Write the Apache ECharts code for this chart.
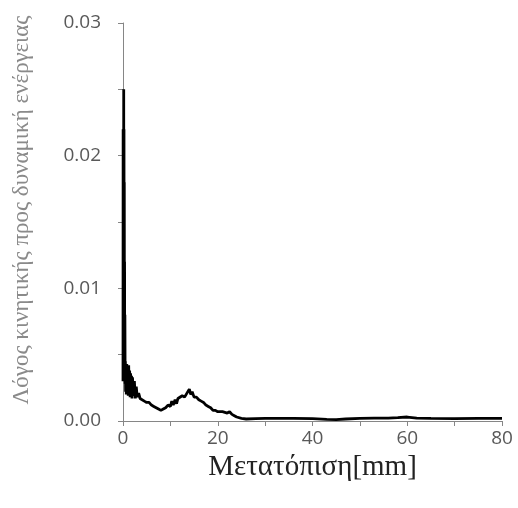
<!DOCTYPE html>
<html>
<head>
<meta charset="utf-8">
<script src="https://cdn.jsdelivr.net/npm/echarts@6/dist/echarts.min.js"></script>
<style>html,body{margin:0;padding:0;background:#fff}#c{width:518px;height:508px}</style>
</head>
<body>
<div id="c"></div>
<script>
var xLabel = 'Μετατόπιση[mm]';
var yLabel = 'Λόγος κινητικής προς δυναμική ενέργειας';
var xTickValues = [0, 20, 40, 60, 80];
var yTickValues = [0.00, 0.01, 0.02, 0.03];
var dispX = [0.00,0.03,0.06,0.09,0.12,0.15,0.18,0.21,0.24,0.27,0.30,0.33,0.36,0.40,0.45,0.50,0.55,0.60,0.70,0.80,0.90,1.00,1.10,1.20,1.30,1.40,1.50,1.60,1.70,1.80,1.90,2.00,2.20,2.40,2.60,2.80,3.00,3.30,3.60,4.00,4.50,5.00,5.50,6.00,6.50,7.00,7.50,8.00,8.50,9.00,9.50,10.0,10.3,10.6,11.0,11.3,11.6,12.0,12.5,13.0,13.5,14.0,14.3,14.6,15.0,15.5,16.0,16.5,17.0,17.5,18.0,18.5,19.0,19.5,20.0,21.0,22.0,22.5,23.0,23.5,24.0,25.0,26.0,28,30,33,36,40,43,45,47,50,53,56,58,60,62,65,70,75,80];
var ratio = [0.0030,0.0220,0.0040,0.0215,0.0035,0.0250,0.0045,0.0220,0.0030,0.0180,0.0040,0.0120,0.0030,0.0080,0.0028,0.0045,0.0022,0.0040,0.0020,0.0043,0.0025,0.0040,0.0019,0.0042,0.0022,0.0038,0.0018,0.0036,0.0020,0.0034,0.0017,0.0033,0.0019,0.0030,0.0017,0.0026,0.0018,0.0021,0.0017,0.0017,0.0015,0.0014,0.0014,0.0012,0.0011,0.0010,0.0009,0.0008,0.0009,0.0010,0.0012,0.0011,0.0015,0.0012,0.0016,0.0013,0.0017,0.0016,0.0019,0.0018,0.0021,0.0024,0.0020,0.0022,0.0018,0.0018,0.0016,0.0015,0.0014,0.0012,0.0011,0.0010,0.0008,0.0008,0.0007,0.0007,0.0006,0.0007,0.0005,0.0004,0.0003,0.0002,0.00015,0.00018,0.0002,0.0002,0.0002,0.00018,0.00012,0.0001,0.00015,0.0002,0.00022,0.00022,0.00025,0.0003,0.00022,0.0002,0.00018,0.0002,0.0002];

var data = dispX.map(function(x, i){ return [x, ratio[i]]; });
function near(v, list){ for (var i=0;i<list.length;i++){ if (Math.abs(v-list[i])<1e-9) return true; } return false; }

var chart = echarts.init(document.getElementById('c'), null, {renderer:'canvas'});
chart.setOption({
  animation: false,
  backgroundColor: '#fff',
  grid: {left: 123, right: 16, top: 23, bottom: 87, containLabel: false, outerBoundsMode: 'none'},
  xAxis: {
    type: 'value', min: 0, max: 80, interval: 10,
    name: xLabel, nameLocation: 'middle', nameGap: 23,
    nameTextStyle: {fontFamily: 'Liberation Serif', fontSize: 29, color: '#222'},
    axisLine: {show: true, lineStyle: {color: '#868686', width: 1}},
    axisTick: {show: true, length: 5, lineStyle: {color: '#868686'}},
    axisLabel: {fontFamily: 'Open Sans', fontSize: 19, color: '#595959', margin: 8,
      formatter: function(v){ return near(v, xTickValues) ? String(v) : ''; }},
    splitLine: {show: false}
  },
  yAxis: {
    type: 'value', min: 0, max: 0.03, interval: 0.005,
    name: yLabel, nameLocation: 'middle', nameGap: 90,
    nameTextStyle: {fontFamily: 'Liberation Serif', fontSize: 23, color: '#8a8a8a', padding: [0, 0, 0, 24]},
    axisLine: {show: true, lineStyle: {color: '#868686', width: 1}},
    axisTick: {show: true, length: 5, lineStyle: {color: '#868686'}},
    axisLabel: {fontFamily: 'Open Sans', fontSize: 19, color: '#595959', margin: 22,
      formatter: function(v){ return near(v, yTickValues) ? v.toFixed(2) : ''; }},
    splitLine: {show: false}
  },
  series: [{
    type: 'line', data: data, showSymbol: false, symbol: 'none',
    lineStyle: {color: '#000', width: 2.8}
  }]
});
</script>
</body>
</html>
